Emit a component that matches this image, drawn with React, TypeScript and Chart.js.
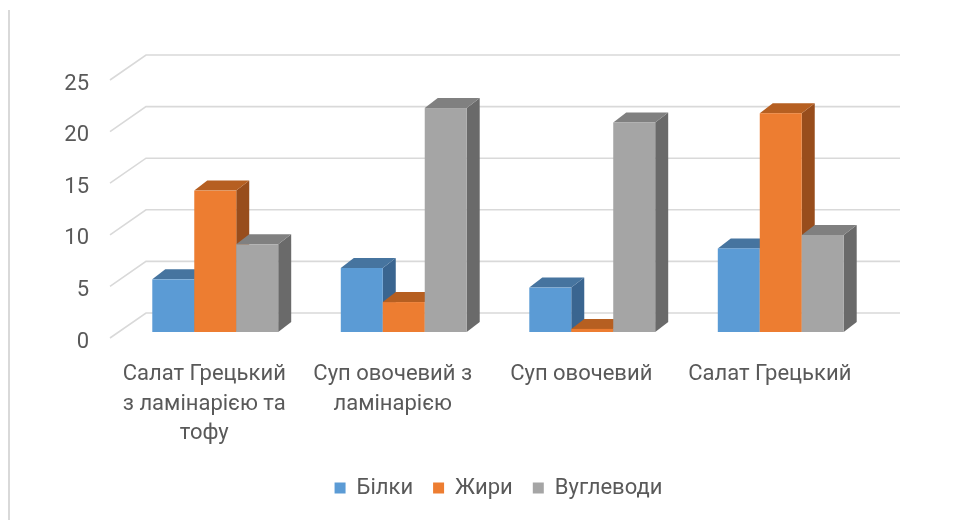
import React, { useEffect, useRef } from "react";
import { Chart, registerables } from "chart.js";

Chart.register(...registerables);

// ---- data ----
const categories: (string | string[])[] = [
  ["Салат Грецький", "з ламінарією та", "тофу"],
  ["Суп овочевий з", "ламінарією"],
  "Суп овочевий",
  "Салат Грецький",
];
const seriesNames = ["Білки", "Жири", "Вуглеводи"];
const bilky = [5.1, 6.2, 4.3, 8.1];
const zhyry = [13.7, 2.9, 0.3, 21.2];
const vuhlevody = [8.5, 21.7, 20.3, 9.4];
const yMin = 0;
const yMax = 25;
const yStep = 5;

// ---- styles ----
const frontColors = ["#5B9BD5", "#ED7D31", "#A5A5A5"];
const topColors = ["#46749F", "#B65F21", "#808080"];
const sideColors = ["#3A6590", "#984D1C", "#6A6A6A"];
const textColor = "#595959";
const gridColor = "#D9D9D9";
const FONT = "Roboto, 'Noto Sans', sans-serif";
const FONT_SIZE = 22;

const BAR_OFF = { x: 11, y: -6 };
const DEPTH = { x: 13, y: -10 };
const WALL = { x: 36, y: -25 };

const threeD = {
  id: "threeD",
  beforeDraw(chart: any) {
    const ctx = chart.ctx;
    ctx.save();
    ctx.strokeStyle = gridColor;
    ctx.lineWidth = 2;
    ctx.beginPath();
    ctx.moveTo(9, 10);
    ctx.lineTo(9, 520);
    ctx.stroke();
    ctx.restore();
  },
  beforeDatasetsDraw(chart: any) {
    const ctx = chart.ctx;
    const a = chart.chartArea;
    const yScale = chart.scales.y;
    ctx.save();
    ctx.strokeStyle = gridColor;
    ctx.lineWidth = 1.6;
    yScale.ticks.forEach((t: any) => {
      const py = yScale.getPixelForValue(t.value);
      ctx.beginPath();
      ctx.moveTo(a.left, py);
      ctx.lineTo(a.left + WALL.x, py + WALL.y);
      ctx.lineTo(a.right + WALL.x, py + WALL.y);
      ctx.stroke();
    });
    const n = chart.data.labels.length;
    const nd = chart.data.datasets.length;
    for (let i = 0; i < n; i++) {
      for (let d = 0; d < nd; d++) {
        const meta = chart.getDatasetMeta(d);
        const el = meta.data[i];
        if (!el) continue;
        const p = el.getProps(["x", "y", "base", "width"], true);
        const L = p.x - p.width / 2 + BAR_OFF.x;
        const R = p.x + p.width / 2 + BAR_OFF.x;
        const T = Math.min(p.y, p.base) + BAR_OFF.y;
        const B = Math.max(p.y, p.base) + BAR_OFF.y;
        // side
        ctx.fillStyle = sideColors[d];
        ctx.beginPath();
        ctx.moveTo(R, T);
        ctx.lineTo(R + DEPTH.x, T + DEPTH.y);
        ctx.lineTo(R + DEPTH.x, B + DEPTH.y);
        ctx.lineTo(R, B);
        ctx.closePath();
        ctx.fill();
        // top
        ctx.fillStyle = topColors[d];
        ctx.beginPath();
        ctx.moveTo(L, T);
        ctx.lineTo(L + DEPTH.x, T + DEPTH.y);
        ctx.lineTo(R + DEPTH.x, T + DEPTH.y);
        ctx.lineTo(R, T);
        ctx.closePath();
        ctx.fill();
        // front
        ctx.fillStyle = frontColors[d];
        ctx.fillRect(L, T, R - L, B - T);
      }
    }
    ctx.restore();
    return false;
  },
};

export default function App() {
  const ref = useRef<HTMLCanvasElement | null>(null);
  useEffect(() => {
    if (!ref.current) return;
    const seriesData = [bilky, zhyry, vuhlevody];
    const chart = new Chart(ref.current, {
      type: "bar",
      data: {
        labels: categories as any,
        datasets: seriesNames.map((name, i) => ({
          label: name,
          data: seriesData[i],
          backgroundColor: frontColors[i],
          borderWidth: 0,
          categoryPercentage: 0.668,
          barPercentage: 1,
          yAxisID: "y",
        })),
      },
      options: {
        responsive: false,
        animation: false,
        layout: { padding: { left: 40, right: 0, top: 80, bottom: 11 } },
        plugins: {
          legend: {
            position: "bottom",
            labels: {
              boxWidth: 11,
              boxHeight: 11,
              padding: 20,
              color: textColor,
              font: { family: FONT, size: FONT_SIZE },
            },
          },
          tooltip: { enabled: false },
          title: { display: false },
        },
        scales: {
          x: {
            grid: { display: false, drawTicks: false },
            border: { display: false },
            ticks: {
              color: textColor,
              font: { family: FONT, size: FONT_SIZE, lineHeight: 1.34 },
              padding: 22,
              maxRotation: 0,
              autoSkip: false,
            },
            afterFit(scale: any) {
              scale.height = 119;
            },
          },
          y: {
            min: yMin,
            max: yMax,
            grid: { display: false, drawTicks: false },
            border: { display: false },
            ticks: {
              stepSize: yStep,
              color: textColor,
              font: { family: FONT, size: FONT_SIZE },
              padding: 21,
              labelOffset: 4,
            },
            afterFit(scale: any) {
              scale.width = 70;
            },
          },
          y2: {
            position: "right",
            min: yMin,
            max: yMax,
            grid: { display: false, drawTicks: false },
            border: { display: false },
            ticks: { display: false },
            afterFit(scale: any) {
              scale.width = 93;
            },
          },
        },
      },
      plugins: [threeD],
    });
    return () => chart.destroy();
  }, []);
  return (
    <div style={{ position: "fixed", left: 0, top: 0, width: 957, height: 520, background: "#fff" }}>
      <canvas ref={ref} width={957} height={520} style={{ display: "block" }} />
    </div>
  );
}
